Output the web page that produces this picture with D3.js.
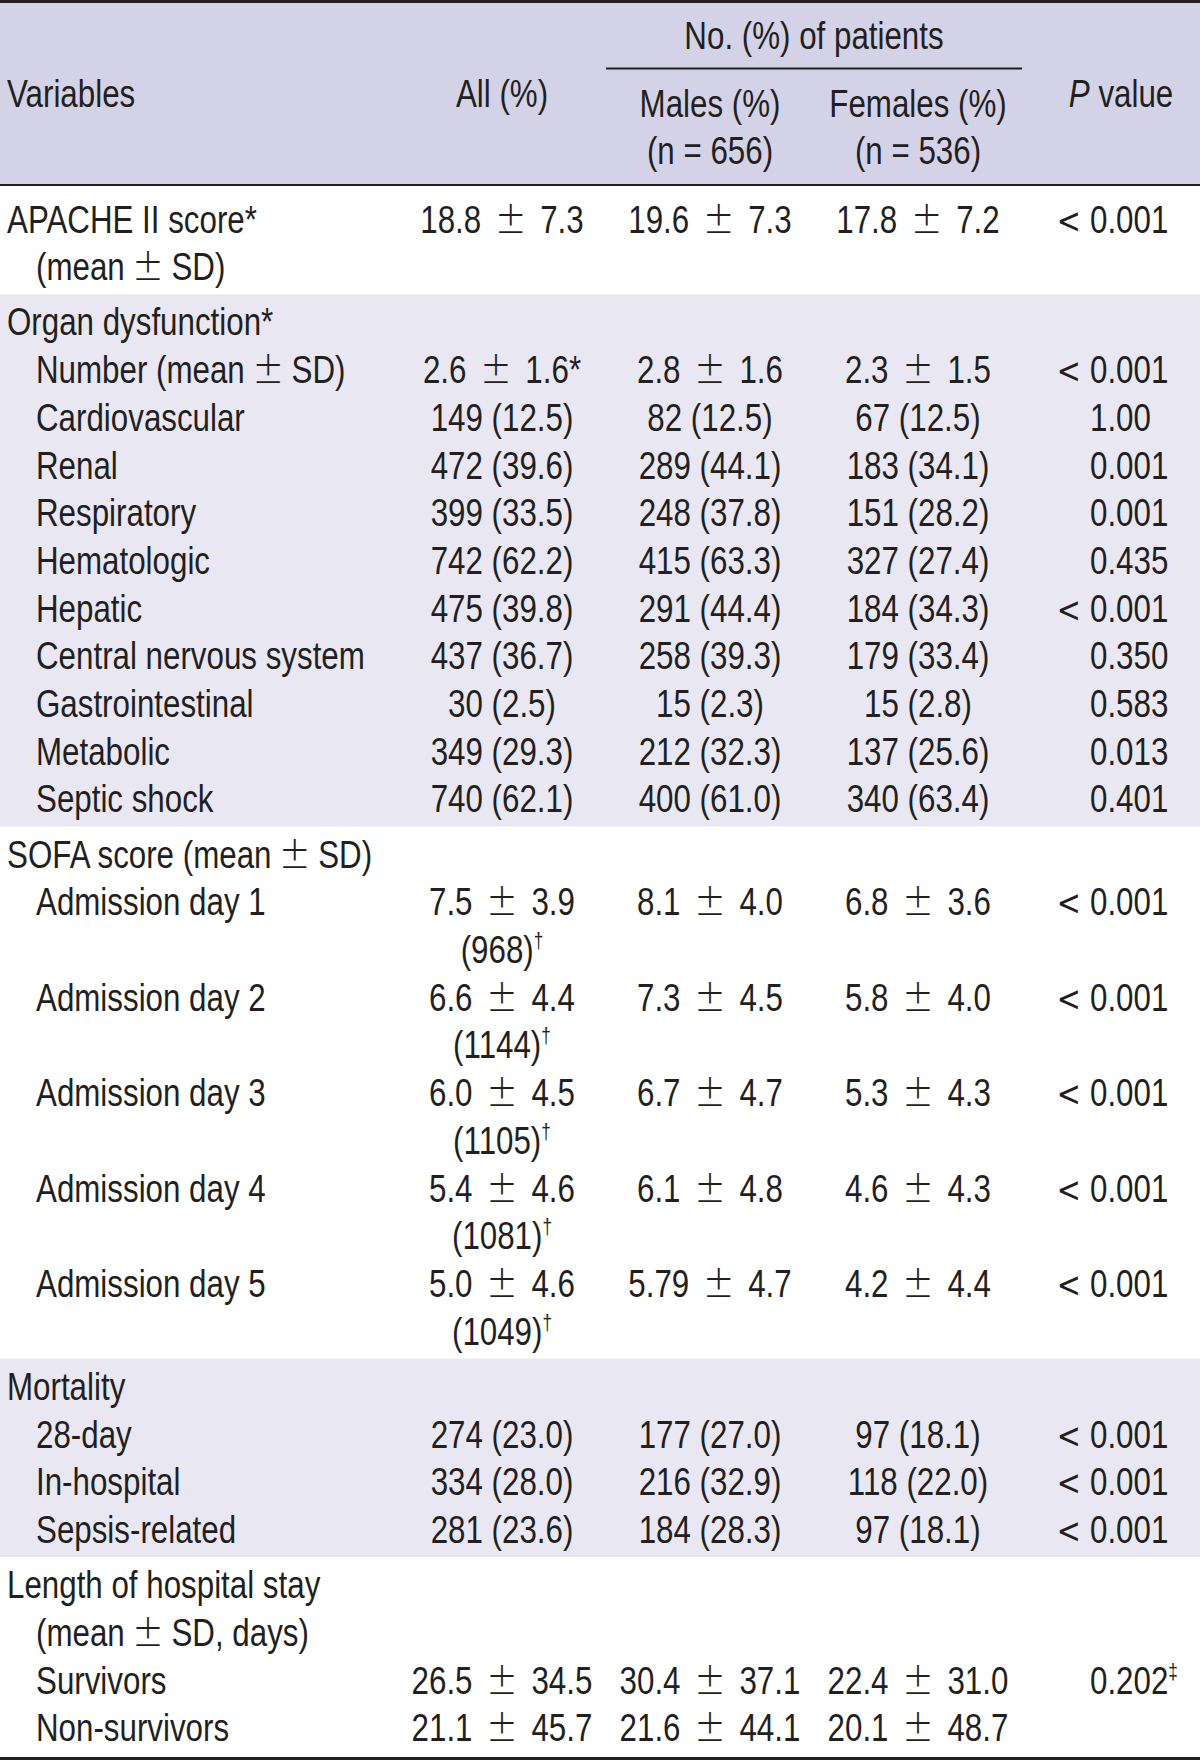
<!DOCTYPE html>
<html>
<head>
<meta charset="utf-8">
<script src="https://cdn.jsdelivr.net/npm/d3@7"></script>
<style>
  html, body { margin: 0; padding: 0; background: #ffffff; }
  svg { display: block; }
</style>
</head>
<body>
<div id="chart"></div>
<script>
// ---------------- DATA ----------------
const columns = ["Variables", "All (%)", "Males (%)", "Females (%)", "P value"];
const spanHeader = "No. (%) of patients";
const subHeaders = ["(n = 656)", "(n = 536)"];

const groupNames = ["APACHE", "Organ dysfunction", "SOFA", "Mortality", "Length of stay"];
const groupShaded = [false, true, false, true, false];

// one entry per printed line
const lineLabels = [
  "APACHE II score*", "(mean ± SD)",
  "Organ dysfunction*", "Number (mean ± SD)", "Cardiovascular", "Renal", "Respiratory",
  "Hematologic", "Hepatic", "Central nervous system", "Gastrointestinal", "Metabolic", "Septic shock",
  "SOFA score (mean ± SD)", "Admission day 1", "", "Admission day 2", "", "Admission day 3", "",
  "Admission day 4", "", "Admission day 5", "",
  "Mortality", "28-day", "In-hospital", "Sepsis-related",
  "Length of hospital stay", "(mean ± SD, days)", "Survivors", "Non-survivors"
];
const lineLevel = [
  0, 1,
  0, 1, 1, 1, 1, 1, 1, 1, 1, 1, 1,
  0, 1, 1, 1, 1, 1, 1, 1, 1, 1, 1,
  0, 1, 1, 1,
  0, 1, 1, 1
];
const lineGroup = [
  0, 0,
  1, 1, 1, 1, 1, 1, 1, 1, 1, 1, 1,
  2, 2, 2, 2, 2, 2, 2, 2, 2, 2, 2,
  3, 3, 3, 3,
  4, 4, 4, 4
];
const allValues = [
  "18.8 ± 7.3", "",
  "", "2.6 ± 1.6*", "149 (12.5)", "472 (39.6)", "399 (33.5)", "742 (62.2)", "475 (39.8)",
  "437 (36.7)", "30 (2.5)", "349 (29.3)", "740 (62.1)",
  "", "7.5 ± 3.9", "(968)†", "6.6 ± 4.4", "(1144)†", "6.0 ± 4.5", "(1105)†",
  "5.4 ± 4.6", "(1081)†", "5.0 ± 4.6", "(1049)†",
  "", "274 (23.0)", "334 (28.0)", "281 (23.6)",
  "", "", "26.5 ± 34.5", "21.1 ± 45.7"
];
const maleValues = [
  "19.6 ± 7.3", "",
  "", "2.8 ± 1.6", "82 (12.5)", "289 (44.1)", "248 (37.8)", "415 (63.3)", "291 (44.4)",
  "258 (39.3)", "15 (2.3)", "212 (32.3)", "400 (61.0)",
  "", "8.1 ± 4.0", "", "7.3 ± 4.5", "", "6.7 ± 4.7", "", "6.1 ± 4.8", "", "5.79 ± 4.7", "",
  "", "177 (27.0)", "216 (32.9)", "184 (28.3)",
  "", "", "30.4 ± 37.1", "21.6 ± 44.1"
];
const femaleValues = [
  "17.8 ± 7.2", "",
  "", "2.3 ± 1.5", "67 (12.5)", "183 (34.1)", "151 (28.2)", "327 (27.4)", "184 (34.3)",
  "179 (33.4)", "15 (2.8)", "137 (25.6)", "340 (63.4)",
  "", "6.8 ± 3.6", "", "5.8 ± 4.0", "", "5.3 ± 4.3", "", "4.6 ± 4.3", "", "4.2 ± 4.4", "",
  "", "97 (18.1)", "118 (22.0)", "97 (18.1)",
  "", "", "22.4 ± 31.0", "20.1 ± 48.7"
];
const pValues = [
  "< 0.001", "",
  "", "< 0.001", "1.00", "0.001", "0.001", "0.435", "< 0.001", "0.350", "0.583", "0.013", "0.401",
  "", "< 0.001", "", "< 0.001", "", "< 0.001", "", "< 0.001", "", "< 0.001", "",
  "", "< 0.001", "< 0.001", "< 0.001",
  "", "", "0.202‡", ""
];

// ---------------- LAYOUT ----------------
const W = 1200, H = 1762;
const FONT = '"Liberation Sans Narrow", "Arial Narrow", "Liberation Sans", Arial, sans-serif';
const SYM_FONT = '"DejaVu Sans", "Liberation Sans", sans-serif';
const FS = 38.5;
const INK = "#231f20";
const HEAD_BG = "#d3d2e6";
const BAND_BG = "#e8e7f2";

const svg = d3.select("#chart").append("svg")
  .attr("width", W).attr("height", H)
  .attr("viewBox", `0 0 ${W} ${H}`);

// measure font width to compensate if a narrow face is missing
const probe = svg.append("text").attr("font-family", FONT).attr("font-size", FS)
  .text("Central nervous system");
const probeW = probe.node().getComputedTextLength();
probe.remove();
const SX = Math.abs(probeW - 329) / 329 > 0.04 ? 329 / probeW : 1;

// scales
const x = d3.scaleOrdinal().domain(columns).range([7, 502, 710, 918, 1090]);
const indent = d3.scaleOrdinal().domain([0, 1]).range([0, 29]);
const lineY = d3.scaleLinear().domain([0, 1]).range([219, 266.7]);  // line pitch
const gapY = d3.scaleLinear().domain([0, 1]).range([0, 7.5]);        // extra gap per group
const yCenter = i => lineY(i) + gapY(lineGroup[i]);
const BASE = 13.5;
const HALF = 27.6;

function addRuns(t, str, pmGap) {
  const parts = str.split(/(±)/);
  let afterPm = false;
  parts.forEach(p => {
    if (p === "±") {
      t.append("tspan").attr("font-family", SYM_FONT).attr("font-size", FS * 1.18)
        .attr("font-weight", 300).attr("dx", pmGap).text("±");
      afterPm = true;
    } else if (p.length) {
      const s = t.append("tspan").text(p);
      if (afterPm) s.attr("dx", pmGap);
      afterPm = false;
    }
  });
}

function txt(g, str, px, py, anchor, opts = {}) {
  const gap = opts.gap !== undefined ? opts.gap : 6.5;
  const t = g.append("text")
    .attr("transform", `translate(${px},${py}) scale(${SX},1)`)
    .attr("text-anchor", anchor)
    .attr("font-family", FONT)
    .attr("font-size", FS)
    .attr("fill", INK);
  const m = str.match(/^(.*?)([†‡])$/);
  if (m) {
    addRuns(t, m[1], gap);
    t.append("tspan").attr("font-size", FS * 0.55).attr("dy", -15).text(m[2]);
  } else if (opts.italicFirst) {
    t.append("tspan").attr("font-style", "italic").text(str.split(" ")[0]);
    t.append("tspan").text(" " + str.split(" ").slice(1).join(" "));
  } else if (opts.sym) {
    t.attr("font-family", SYM_FONT).attr("font-size", FS * 0.92).text(str);
  } else {
    addRuns(t, str, gap);
  }
  return t;
}

// ---------------- BACKGROUNDS ----------------
svg.append("rect").attr("x", 0).attr("y", 0).attr("width", W).attr("height", 185)
  .attr("fill", HEAD_BG);

const groupIdx = d3.range(groupNames.length);
const groupExtent = groupIdx.map(gi => {
  const idx = d3.range(lineLabels.length).filter(i => lineGroup[i] === gi);
  return [yCenter(d3.min(idx)) - HALF, yCenter(d3.max(idx)) + HALF];
});
svg.append("g").selectAll("rect")
  .data(groupIdx.filter(gi => groupShaded[gi]))
  .join("rect")
  .attr("x", 0).attr("width", W)
  .attr("y", gi => groupExtent[gi][0])
  .attr("height", gi => groupExtent[gi][1] - groupExtent[gi][0])
  .attr("fill", BAND_BG);

// ---------------- RULES ----------------
const rules = svg.append("g").attr("stroke", INK);
rules.append("line").attr("x1", 0).attr("x2", W).attr("y1", 1.5).attr("y2", 1.5).attr("stroke-width", 3);
rules.append("line").attr("x1", 0).attr("x2", W).attr("y1", 185).attr("y2", 185).attr("stroke-width", 2.2);
rules.append("line").attr("x1", 606).attr("x2", 1022).attr("y1", 68.5).attr("y2", 68.5).attr("stroke-width", 2);
rules.append("line").attr("x1", 0).attr("x2", W).attr("y1", 1758.5).attr("y2", 1758.5).attr("stroke-width", 3);

// ---------------- HEADER ----------------
const head = svg.append("g");
txt(head, spanHeader, 814, 49, "middle");
txt(head, columns[0], x(columns[0]), 106.5, "start");
txt(head, columns[1], x(columns[1]), 106.5, "middle");
txt(head, columns[2], x(columns[2]), 117, "middle");
txt(head, columns[3], x(columns[3]), 117, "middle");
txt(head, subHeaders[0], x(columns[2]), 163.5, "middle");
txt(head, subHeaders[1], x(columns[3]), 163.5, "middle");
txt(head, columns[4], 1121, 106.5, "middle", { italicFirst: true });

// ---------------- BODY ----------------
const body = svg.append("g");
lineLabels.forEach((lab, i) => {
  const yb = yCenter(i) + BASE;
  if (lab) txt(body, lab, x(columns[0]) + indent(lineLevel[i]), yb, "start", { gap: -1 });
  if (allValues[i]) txt(body, allValues[i], x(columns[1]), yb, "middle");
  if (maleValues[i]) txt(body, maleValues[i], x(columns[2]), yb, "middle");
  if (femaleValues[i]) txt(body, femaleValues[i], x(columns[3]), yb, "middle");
  const p = pValues[i];
  if (p) {
    if (p.startsWith("<")) {
      txt(body, "<", x(columns[4]) - 9, yb, "end", { sym: true });
      txt(body, p.replace(/^<\s*/, ""), x(columns[4]), yb, "start");
    } else {
      txt(body, p, x(columns[4]), yb, "start");
    }
  }
});
</script>
</body>
</html>
